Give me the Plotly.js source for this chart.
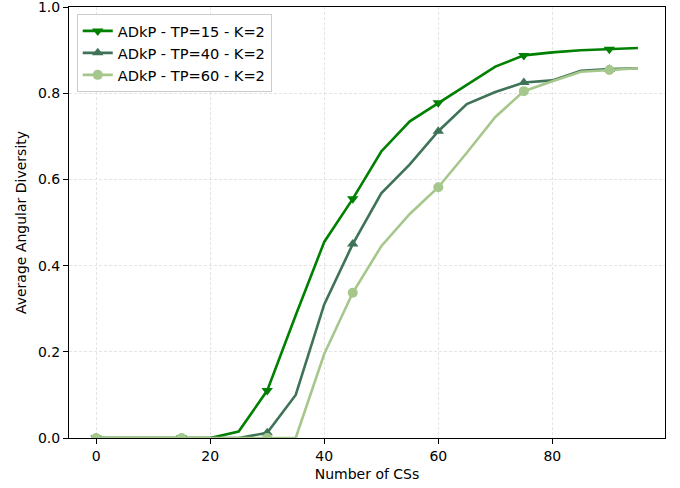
<!DOCTYPE html>
<html>
<head>
<meta charset="utf-8">
<script src="https://cdn.plot.ly/plotly-3.0.1.min.js"></script>
<style>html,body{margin:0;padding:0;background:#fff;}#chart{width:680px;height:488px;}</style>
</head>
<body>
<div id="chart"></div>
<script>
// Number of CSs
var xValues = [0,5,10,15,20,25,30,35,40,45,50,55,60,65,70,75,80,85,90,95];
// Average angular diversity per series
var tp15 = [0,0,0,0,0,0.015,0.11,0.285,0.455,0.555,0.665,0.735,0.778,0.82,0.862,0.888,0.895,0.9,0.902,0.905];
var tp40 = [0,0,0,0,0,0,0.012,0.1,0.31,0.45,0.568,0.635,0.712,0.775,0.803,0.825,0.83,0.852,0.856,0.858];
var tp60 = [0,0,0,0,0,0,0,0,0.195,0.337,0.445,0.52,0.582,0.662,0.745,0.805,0.828,0.85,0.854,0.858];
var seriesNames = ['ADkP - TP=15 - K=2','ADkP - TP=40 - K=2','ADkP - TP=60 - K=2'];
var xTicks = [0,20,40,60,80];
var yTicks = [0,0.2,0.4,0.6,0.8,1.0];

var colors = ['#008000','#3f7358','#a6c78b'];
var symbols = ['triangle-down','triangle-up','circle'];
var sizes = [10,10,10];
var markEvery = 3;

function markerColors(c){
  return xValues.map(function(_,i){ return (i % markEvery === 0) ? c : 'rgba(0,0,0,0)'; });
}

var allY = [tp15,tp40,tp60];
var traces = allY.map(function(y,k){
  return {
    x: xValues, y: y, name: seriesNames[k], type:'scatter', mode:'lines+markers',
    line:{color:colors[k], width:2.6},
    marker:{symbol:symbols[k], size:sizes[k], color:markerColors(colors[k]), line:{width:0}}
  };
});

var axisFont = {family:'DejaVu Sans', size:14, color:'#000'};
var layout = {
  width:680, height:488,
  margin:{l:69, r:15, t:7, b:50},
  paper_bgcolor:'#fff', plot_bgcolor:'#fff',
  font:axisFont,
  showlegend:true,
  legend:{x:0.013, y:0.984, xanchor:'left', yanchor:'top', bgcolor:'rgba(255,255,255,0.85)',
    bordercolor:'#cccccc', borderwidth:1, font:{family:'DejaVu Sans', size:14.6, color:'#000'}},
  xaxis:{range:[-4.75,99.75], tickvals:xTicks, ticktext:xTicks.map(String),
    showline:true, mirror:true, linecolor:'#000', linewidth:1,
    ticks:'outside', ticklen:5, tickwidth:1, tickcolor:'#000',
    showgrid:true, gridcolor:'#dddddd', gridwidth:0.8, griddash:'3px,2px', zeroline:false,
    title:{text:'Number of CSs', font:axisFont, standoff:6}, tickfont:axisFont},
  yaxis:{range:[0,1.0003], tickvals:yTicks, ticktext:yTicks.map(function(v){return v.toFixed(1);}),
    ticklabeloverflow:'allow',
    showline:true, mirror:true, linecolor:'#000', linewidth:1,
    ticks:'outside', ticklen:5, tickwidth:1, tickcolor:'#000',
    showgrid:true, gridcolor:'#dddddd', gridwidth:0.8, griddash:'3px,2px', zeroline:false,
    title:{text:'Average Angular Diversity', font:axisFont, standoff:8}, tickfont:axisFont}
};
Plotly.newPlot('chart', traces, layout, {staticPlot:true, displayModeBar:false});
</script>
</body>
</html>
